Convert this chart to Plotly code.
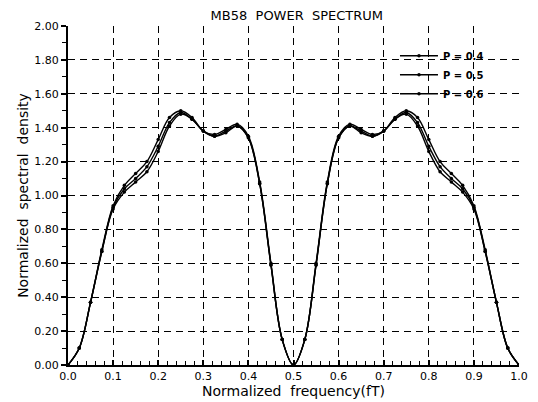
import plotly.graph_objects as go

freq = [0.000, 0.025, 0.050, 0.075, 0.100, 0.125, 0.150, 0.175, 0.200, 0.225,
        0.250, 0.275, 0.300, 0.325, 0.350, 0.375, 0.400, 0.425, 0.450, 0.475,
        0.500, 0.525, 0.550, 0.575, 0.600, 0.625, 0.650, 0.675, 0.700, 0.725,
        0.750, 0.775, 0.800, 0.825, 0.850, 0.875, 0.900, 0.925, 0.950, 0.975, 1.000]

p04 = [0.00, 0.10, 0.37, 0.67, 0.92, 1.02, 1.08, 1.14, 1.26, 1.41,
       1.48, 1.45, 1.38, 1.35, 1.37, 1.41, 1.34, 1.07, 0.59, 0.15,
       0.00, 0.15, 0.59, 1.07, 1.34, 1.41, 1.37, 1.35, 1.38, 1.45,
       1.48, 1.41, 1.26, 1.14, 1.08, 1.02, 0.92, 0.67, 0.37, 0.10, 0.00]

p05 = [0.00, 0.10, 0.37, 0.67, 0.93, 1.04, 1.10, 1.17, 1.29, 1.43,
       1.49, 1.45, 1.38, 1.35, 1.38, 1.41, 1.34, 1.07, 0.59, 0.15,
       0.00, 0.15, 0.59, 1.07, 1.34, 1.41, 1.38, 1.35, 1.38, 1.45,
       1.49, 1.43, 1.29, 1.17, 1.10, 1.04, 0.93, 0.67, 0.37, 0.10, 0.00]

p06 = [0.00, 0.10, 0.37, 0.68, 0.94, 1.06, 1.13, 1.20, 1.33, 1.46,
       1.50, 1.46, 1.38, 1.36, 1.39, 1.42, 1.35, 1.08, 0.60, 0.15,
       0.00, 0.15, 0.60, 1.08, 1.35, 1.42, 1.39, 1.36, 1.38, 1.46,
       1.50, 1.46, 1.33, 1.20, 1.13, 1.06, 0.94, 0.68, 0.37, 0.10, 0.00]

series = [("P = 0.4", p04), ("P = 0.5", p05), ("P = 0.6", p06)]

y_ticks = [0.0, 0.2, 0.4, 0.6, 0.8, 1.0, 1.2, 1.4, 1.6, 1.8, 2.0]
x_ticks = [0.0, 0.1, 0.2, 0.3, 0.4, 0.5, 0.6, 0.7, 0.8, 0.9, 1.0]

FONT = "DejaVu Sans"

fig = go.Figure()
for name, vals in series:
    fig.add_trace(go.Scatter(
        x=freq, y=vals, name=name, mode="lines+markers",
        line=dict(color="black", width=1.4, shape="spline", smoothing=1.0),
        marker=dict(color="black", size=3.5, symbol="circle"),
    ))

# page body has an 8px default margin, so the figure is sized 530x394
fig.update_layout(
    width=530, height=394,
    margin=dict(l=60, r=19, t=18, b=37),
    paper_bgcolor="white", plot_bgcolor="white",
    font=dict(family=FONT, color="black"),
    title=dict(text="MB58  POWER  SPECTRUM", x=0.545, xanchor="center",
               y=0.993, yanchor="top", font=dict(size=13, family=FONT)),
    showlegend=True,
    legend=dict(x=0.725, y=0.955, xanchor="left", yanchor="top",
                bgcolor="rgba(255,255,255,0)",
                font=dict(size=10, family=FONT, weight="bold"),
                tracegroupgap=0, itemwidth=38),
)

fig.update_xaxes(
    range=[0, 1.0], tickvals=x_ticks, ticktext=[f"{v:.1f}" for v in x_ticks],
    automargin=False,
    showline=True, linecolor="black", linewidth=2,
    showgrid=True, gridcolor="black", gridwidth=1.3, griddash="7px,5px",
    ticks="inside", ticklen=5, tickcolor="black", tickwidth=1.5,
    minor=dict(dtick=0.02, ticks="inside", ticklen=4, tickcolor="black", tickwidth=1.2, showgrid=False),
    tickfont=dict(size=11, family=FONT),
    title=dict(text="Normalized  frequency(fT)", font=dict(size=14, family=FONT), standoff=3),
    zeroline=False,
)
fig.update_yaxes(
    range=[0, 2.0], tickvals=y_ticks, ticktext=[f"{v:.2f}" for v in y_ticks],
    automargin=False,
    showline=True, linecolor="black", linewidth=2,
    showgrid=True, gridcolor="black", gridwidth=1.3, griddash="7px,5px",
    ticks="outside", ticklen=5, tickcolor="black", tickwidth=1.5,
    minor=dict(dtick=0.1, ticks="outside", ticklen=4, tickcolor="black", tickwidth=1.2, showgrid=False),
    tickfont=dict(size=11, family=FONT),
    title=dict(text="Normalized  spectral  density", font=dict(size=14, family=FONT), standoff=2),
    zeroline=False,
)

fig.write_html("out.html")
